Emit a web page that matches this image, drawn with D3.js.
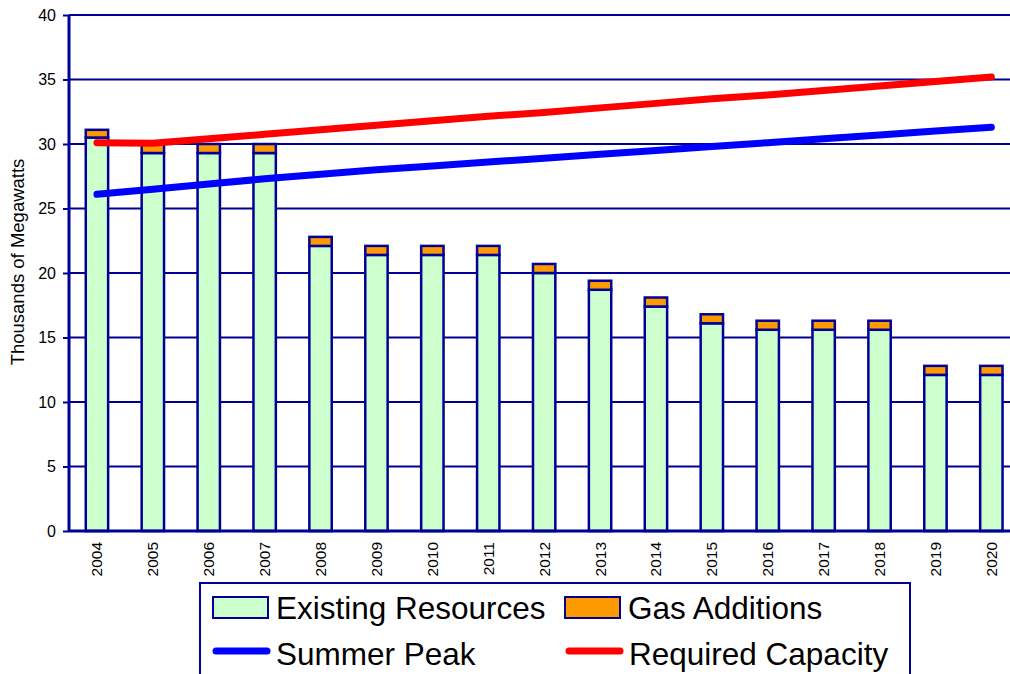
<!DOCTYPE html>
<html>
<head>
<meta charset="utf-8">
<script src="https://cdn.jsdelivr.net/npm/d3@7"></script>
<style>
  body { margin: 0; background: #fff; overflow: hidden; }
  text { font-family: Arial, "Liberation Sans", sans-serif; fill: #000; }
</style>
</head>
<body>
<div id="chart"></div>
<script>
const years = ["2004", "2005", "2006", "2007", "2008", "2009", "2010", "2011", "2012",
    "2013", "2014", "2015", "2016", "2017", "2018", "2019", "2020"];
const existing = [30.5, 29.3, 29.3, 29.3, 22.1, 21.4, 21.4, 21.4, 20.0,
    18.7, 17.4, 16.1, 15.6, 15.6, 15.6, 12.1, 12.1];
const gasAdditions = [0.6, 0.7, 0.7, 0.7, 0.7, 0.7, 0.7, 0.7, 0.7,
    0.7, 0.7, 0.7, 0.7, 0.7, 0.7, 0.7, 0.7];
const summerPeak = [26.1, 26.5, 26.9, 27.3, 27.65, 28.0, 28.3, 28.6, 28.9,
    29.2, 29.5, 29.8, 30.1, 30.4, 30.7, 31.0, 31.3];
const requiredCapacity = [30.1, 30.05, 30.4, 30.75, 31.1, 31.45, 31.8, 32.15, 32.45,
    32.8, 33.15, 33.5, 33.8, 34.15, 34.5, 34.85, 35.2];
const yTicks = [0, 5, 10, 15, 20, 25, 30, 35, 40];

const navy = "#000096";
const margin = { top: 15, right: 0, bottom: 143, left: 69 };
const fullW = 1010, fullH = 674;
const height = fullH - margin.top - margin.bottom;
const step = 55.9;
const width = step * years.length;

const svg = d3.select("#chart").append("svg")
    .attr("width", fullW)
    .attr("height", fullH);

const g = svg.append("g")
    .attr("transform", "translate(" + margin.left + "," + margin.top + ")");

const x = d3.scaleBand()
    .domain(years)
    .range([0, width])
    .paddingInner(0.6)
    .paddingOuter(0.3);

const y = d3.scaleLinear()
    .domain([0, 40])
    .range([height, 0]);

// gridlines
g.selectAll(".grid")
    .data(yTicks.filter(d => d > 0))
    .enter().append("line")
    .attr("x1", 0)
    .attr("x2", fullW)
    .attr("y1", d => y(d))
    .attr("y2", d => y(d))
    .attr("stroke", navy)
    .attr("stroke-width", 2);

// y axis
const yAxis = d3.axisLeft(y).tickValues(yTicks).tickSize(6).tickPadding(7);
const ya = g.append("g").call(yAxis);
ya.select(".domain").remove();
ya.selectAll(".tick line").attr("stroke", navy).attr("stroke-width", 2);
ya.selectAll(".tick text")
    .style("font-size", "16px")
    .attr("font-family", "Arial, 'Liberation Sans', sans-serif");

// bars
const data = years.map((yr, i) => ({ year: yr, ex: existing[i], gas: gasAdditions[i] }));

const cols = g.selectAll(".col")
    .data(data)
    .enter().append("g")
    .attr("class", "col");

cols.append("rect")
    .attr("x", d => x(d.year))
    .attr("width", x.bandwidth())
    .attr("y", d => y(d.ex))
    .attr("height", d => y(0) - y(d.ex))
    .attr("fill", "#CCFFCC")
    .attr("stroke", navy)
    .attr("stroke-width", 2.5);

cols.append("rect")
    .attr("x", d => x(d.year))
    .attr("width", x.bandwidth())
    .attr("y", d => y(d.ex + d.gas))
    .attr("height", d => y(d.ex) - y(d.ex + d.gas))
    .attr("fill", "#FF9900")
    .attr("stroke", navy)
    .attr("stroke-width", 2.5);

// axis lines
g.append("line")
    .attr("x1", 0).attr("x2", 0)
    .attr("y1", 0).attr("y2", height)
    .attr("stroke", navy)
    .attr("stroke-width", 3);

g.append("line")
    .attr("x1", 0).attr("x2", fullW)
    .attr("y1", height).attr("y2", height)
    .attr("stroke", navy)
    .attr("stroke-width", 3);

// x labels
g.selectAll(".xlab")
    .data(years)
    .enter().append("text")
    .attr("transform", d => "translate(" + (x(d) + x.bandwidth() / 2 + 5.5) + "," + (height + 11) + ") rotate(-90)")
    .attr("text-anchor", "end")
    .style("font-size", "15.5px")
    .text(d => d);

// lines
const line = d3.line()
    .x((d, i) => x(years[i]) + x.bandwidth() / 2)
    .y(d => y(d));

g.append("path")
    .datum(summerPeak)
    .attr("d", line)
    .attr("fill", "none")
    .attr("stroke", "#0000FF")
    .attr("stroke-width", 7)
    .attr("stroke-linecap", "round");

g.append("path")
    .datum(requiredCapacity)
    .attr("d", line)
    .attr("fill", "none")
    .attr("stroke", "#FF0000")
    .attr("stroke-width", 7)
    .attr("stroke-linecap", "round");

// y label
svg.append("text")
    .attr("transform", "translate(24," + 262 + ") rotate(-90)")
    .attr("text-anchor", "middle")
    .style("font-size", "18.5px")
    .text("Thousands of Megawatts");

// legend
const legend = svg.append("g");
legend.append("rect")
    .attr("x", 200).attr("y", 583)
    .attr("width", 710).attr("height", 120)
    .attr("fill", "#fff")
    .attr("stroke", navy)
    .attr("stroke-width", 2);

const legendBoxes = [
    { name: "Existing Resources", fill: "#CCFFCC", x: 213 },
    { name: "Gas Additions", fill: "#FF9900", x: 565 }
];
const legendLines = [
    { name: "Summer Peak", color: "#0000FF", x: 213 },
    { name: "Required Capacity", color: "#FF0000", x: 566 }
];

legendBoxes.forEach(d => {
    legend.append("rect")
        .attr("x", d.x).attr("y", 597)
        .attr("width", 55).attr("height", 21)
        .attr("fill", d.fill)
        .attr("stroke", navy)
        .attr("stroke-width", 2);
    legend.append("text")
        .attr("x", d.x + 63).attr("y", 619)
        .style("font-size", "31.5px")
        .text(d.name);
});

legendLines.forEach(d => {
    legend.append("line")
        .attr("x1", d.x + 3).attr("x2", d.x + 54)
        .attr("y1", 651).attr("y2", 651)
        .attr("stroke", d.color)
        .attr("stroke-width", 7)
        .attr("stroke-linecap", "round");
    legend.append("text")
        .attr("x", d.x + 63).attr("y", 665)
        .style("font-size", "31.5px")
        .text(d.name);
});
</script>
</body>
</html>
